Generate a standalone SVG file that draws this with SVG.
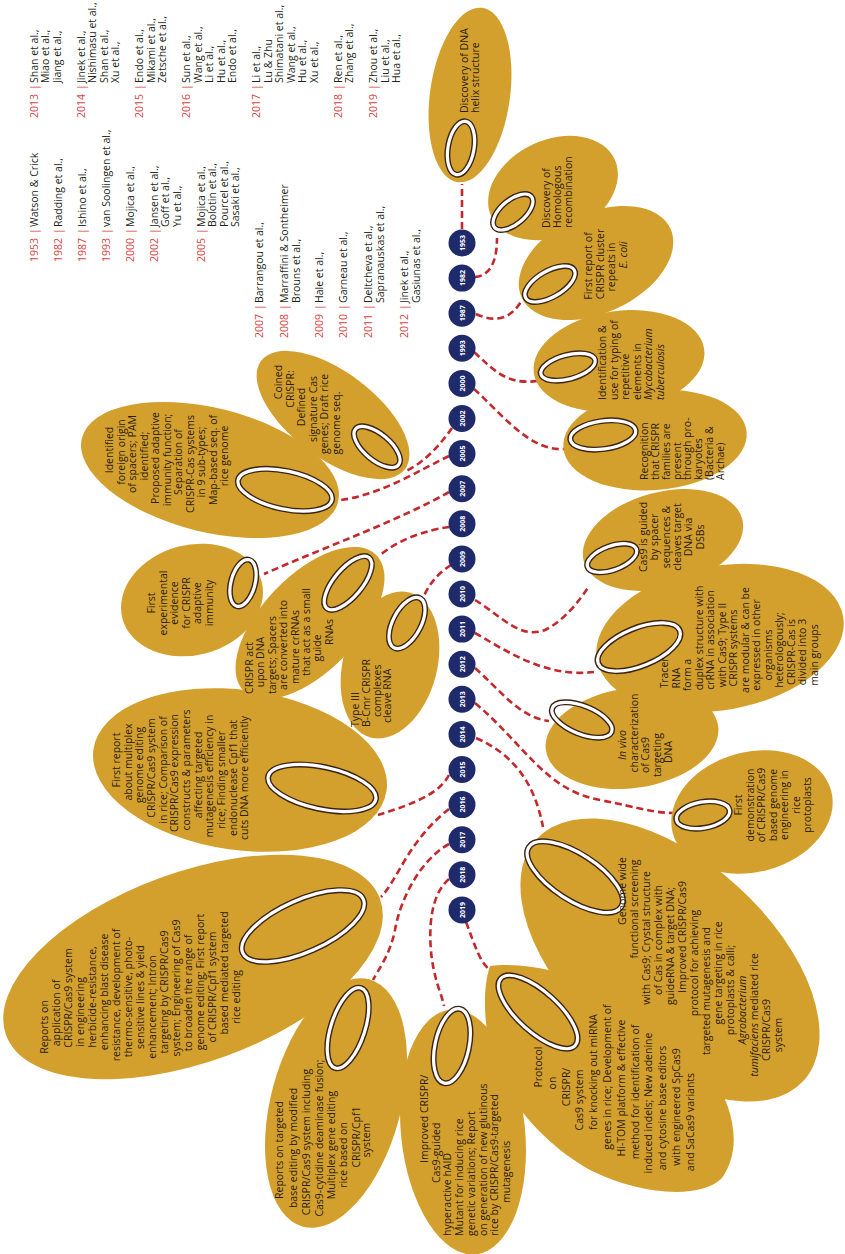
<svg xmlns="http://www.w3.org/2000/svg" width="845" height="1254" viewBox="0 0 845 1254">
<style>
.nd{fill:#D4A02D}
.r1{fill:none;stroke:#3B2416;stroke-width:6}
.r2{fill:none;stroke:#FFFFFF;stroke-width:3.2}
.cn{fill:none;stroke:#C4282C;stroke-width:2.6;stroke-dasharray:7 4}
.yc{fill:#1F2A6B}
.yt{fill:#FFFFFF;font-family:"Open Sans","Noto Sans",sans-serif;font-weight:bold;font-size:7px;text-anchor:middle}
.t{fill:#2A1C10;font-family:"Open Sans","Noto Sans",sans-serif;font-size:10.5px}
.m{text-anchor:middle}
.i{font-style:italic}
.lt{fill:#231F20;font-family:"Open Sans","Noto Sans",sans-serif;font-size:10.5px}
.yr{fill:#D2453F}
</style>
<rect width="845" height="1254" fill="#FFFFFF"/>

<g id="connectors">
<path class="cn" d="M462 229 L462 184"/>
<path class="cn" d="M475 277 C488 276 497 265 497 238"/>
<path class="cn" d="M476 314 Q506 328 522 300"/>
<path class="cn" d="M474 352 C494 370 506 385 537 381"/>
<path class="cn" d="M474 389 C500 412 530 452 564 449"/>
<path class="cn" d="M452 428 C440 445 425 462 406 471"/>
<path class="cn" d="M449 456 C420 470 380 495 341 500"/>
<path class="cn" d="M449 492 C400 520 330 545 264 574"/>
<path class="cn" d="M449 527 C428 530 400 538 379 556"/>
<path class="cn" d="M451 565 C440 572 430 582 424 596"/>
<path class="cn" d="M475 600 C500 615 520 640 545 630 C565 620 580 600 589 586"/>
<path class="cn" d="M475 633 C505 650 545 678 594 672"/>
<path class="cn" d="M475 668 C500 690 520 718 549 721"/>
<path class="cn" d="M475 703 C525 745 545 790 600 800 C640 808 655 813 673 813"/>
<path class="cn" d="M476 738 C515 755 535 785 543 827"/>
<path class="cn" d="M449 775 C440 792 420 802 378 815"/>
<path class="cn" d="M449 809 C435 820 420 835 405 860 C395 877 388 890 381 897"/>
<path class="cn" d="M449 844 C420 860 400 900 395 930 C390 955 378 970 373 980"/>
<path class="cn" d="M449 879 C430 895 428 930 432 960 C436 985 442 995 444 1006"/>
<path class="cn" d="M466 922 C475 945 480 965 493 972"/>
</g>

<g id="timeline">
<circle class="yc" cx="462" cy="243" r="13.5"/><text class="yt" transform="translate(464.5,243) rotate(-90)">1953</text>
<circle class="yc" cx="462" cy="278.1" r="13.5"/><text class="yt" transform="translate(464.5,278.1) rotate(-90)">1982</text>
<circle class="yc" cx="462" cy="313.2" r="13.5"/><text class="yt" transform="translate(464.5,313.2) rotate(-90)">1987</text>
<circle class="yc" cx="462" cy="348.3" r="13.5"/><text class="yt" transform="translate(464.5,348.3) rotate(-90)">1993</text>
<circle class="yc" cx="462" cy="383.4" r="13.5"/><text class="yt" transform="translate(464.5,383.4) rotate(-90)">2000</text>
<circle class="yc" cx="462" cy="418.5" r="13.5"/><text class="yt" transform="translate(464.5,418.5) rotate(-90)">2002</text>
<circle class="yc" cx="462" cy="453.6" r="13.5"/><text class="yt" transform="translate(464.5,453.6) rotate(-90)">2005</text>
<circle class="yc" cx="462" cy="488.7" r="13.5"/><text class="yt" transform="translate(464.5,488.7) rotate(-90)">2007</text>
<circle class="yc" cx="462" cy="523.8" r="13.5"/><text class="yt" transform="translate(464.5,523.8) rotate(-90)">2008</text>
<circle class="yc" cx="462" cy="558.9" r="13.5"/><text class="yt" transform="translate(464.5,558.9) rotate(-90)">2009</text>
<circle class="yc" cx="462" cy="594" r="13.5"/><text class="yt" transform="translate(464.5,594) rotate(-90)">2010</text>
<circle class="yc" cx="462" cy="629.1" r="13.5"/><text class="yt" transform="translate(464.5,629.1) rotate(-90)">2011</text>
<circle class="yc" cx="462" cy="664.2" r="13.5"/><text class="yt" transform="translate(464.5,664.2) rotate(-90)">2012</text>
<circle class="yc" cx="462" cy="699.3" r="13.5"/><text class="yt" transform="translate(464.5,699.3) rotate(-90)">2013</text>
<circle class="yc" cx="462" cy="734.4" r="13.5"/><text class="yt" transform="translate(464.5,734.4) rotate(-90)">2014</text>
<circle class="yc" cx="462" cy="769.5" r="13.5"/><text class="yt" transform="translate(464.5,769.5) rotate(-90)">2015</text>
<circle class="yc" cx="462" cy="804.6" r="13.5"/><text class="yt" transform="translate(464.5,804.6) rotate(-90)">2016</text>
<circle class="yc" cx="462" cy="839.7" r="13.5"/><text class="yt" transform="translate(464.5,839.7) rotate(-90)">2017</text>
<circle class="yc" cx="462" cy="874.8" r="13.5"/><text class="yt" transform="translate(464.5,874.8) rotate(-90)">2018</text>
<circle class="yc" cx="462" cy="909.9" r="13.5"/><text class="yt" transform="translate(464.5,909.9) rotate(-90)">2019</text>
</g>

<g id="n2000">
<ellipse class="nd" transform="translate(655,440) rotate(-5)" rx="92" ry="50"/>
<g transform="translate(603,435) rotate(-8)"><ellipse class="r1" rx="33" ry="14"/><ellipse class="r2" rx="33" ry="14"/></g>
<text class="t" transform="translate(648,480) rotate(-90)"><tspan x="0" y="0">Recognition</tspan><tspan x="0" y="11">that CRISPR</tspan><tspan x="0" y="22">families are</tspan><tspan x="0" y="32.5">present</tspan><tspan x="0" y="43">through pro-</tspan><tspan x="0" y="54">karyotes</tspan><tspan x="0" y="65">(Bacteria &amp;</tspan><tspan x="0" y="76">Archae)</tspan></text>
</g>

<g id="n1993">
<ellipse class="nd" transform="translate(619,361) rotate(-8)" rx="86" ry="50"/>
<g transform="translate(568,367) rotate(-15)"><ellipse class="r1" rx="28" ry="12"/><ellipse class="r2" rx="28" ry="12"/></g>
<text class="t" transform="translate(606,400) rotate(-90)"><tspan x="0" y="0">Identification &amp;</tspan><tspan x="0" y="11.5">use for typing of</tspan><tspan x="0" y="23">repetitive</tspan><tspan x="0" y="34.5">elements in</tspan><tspan class="i" x="0" y="46">Mycobacterium</tspan><tspan class="i" x="0" y="57.5">tuberculosis</tspan></text>
</g>

<g id="n1987">
<ellipse class="nd" transform="translate(596,263) rotate(-25)" rx="82" ry="50"/>
<g transform="translate(550,284) rotate(-30)"><ellipse class="r1" rx="28" ry="13"/><ellipse class="r2" rx="28" ry="13"/></g>
<text class="t m" transform="translate(592,265) rotate(-90)"><tspan x="-1" y="0">First report of</tspan><tspan x="1" y="11.5">CRISPR cluster</tspan><tspan x="-2" y="23">repeats in</tspan><tspan class="i" x="10" y="34.5">E. coli</tspan></text>
</g>

<g id="n1982">
<ellipse class="nd" transform="translate(553,188) rotate(-25)" rx="68" ry="48"/>
<g transform="translate(513,212) rotate(-40)"><ellipse class="r1" rx="24" ry="12"/><ellipse class="r2" rx="24" ry="12"/></g>
<text class="t" transform="translate(550,228) rotate(-90)"><tspan x="0" y="0">Discovery of</tspan><tspan x="0" y="11">Homologous</tspan><tspan x="0" y="22">recombination</tspan></text>
</g>

<g id="n1953">
<ellipse class="nd" transform="translate(470,95) rotate(8)" rx="40" ry="88"/>
<g transform="translate(461,148) rotate(10)"><ellipse class="r1" rx="13" ry="27"/><ellipse class="r2" rx="13" ry="27"/></g>
<text class="t" transform="translate(468,113) rotate(-90)"><tspan x="0" y="0">Discovery of DNA</tspan><tspan x="0" y="11">helix structure</tspan></text>
</g>

<g id="n2010">
<ellipse class="nd" transform="translate(663,540) rotate(-15)" rx="82" ry="48"/>
<g transform="translate(612,558) rotate(-20)"><ellipse class="r1" rx="26" ry="12"/><ellipse class="r2" rx="26" ry="12"/></g>
<text class="t m" transform="translate(647,537) rotate(-90)"><tspan x="0" y="0">Cas9 is guided</tspan><tspan x="0" y="11.3">by spacer</tspan><tspan x="0" y="22.6">sequences &amp;</tspan><tspan x="0" y="34">cleaves target</tspan><tspan x="0" y="45.3">DNA via</tspan><tspan x="0" y="56.6">DSBs</tspan></text>
</g>

<g id="n2011">
<ellipse class="nd" transform="translate(720,638) rotate(-10)" rx="125" ry="72"/>
<g transform="translate(639,647) rotate(-22)"><ellipse class="r1" rx="44" ry="19"/><ellipse class="r2" rx="44" ry="19"/></g>
<text class="t m" transform="translate(668,650) rotate(-90)"><tspan x="-23" y="0">Tracer</tspan><tspan x="-28" y="11.5">RNA</tspan><tspan x="-25" y="23">form a</tspan><tspan x="12" y="34.5">duplex structure with</tspan><tspan x="10" y="46">crRNA in association</tspan><tspan x="5" y="57.5">with Cas9; Type II</tspan><tspan x="2" y="69">CRISPR systems</tspan><tspan x="10" y="80.5">are modular &amp; can be</tspan><tspan x="5" y="92">expressed in other</tspan><tspan x="-5" y="103.5">organisms</tspan><tspan x="0" y="115">heterologously;</tspan><tspan x="-2" y="126.5">CRISPR-Cas is</tspan><tspan x="-2" y="138">divided into 3</tspan><tspan x="-5" y="149.5">main groups</tspan></text>
</g>

<g id="n2013">
<ellipse class="nd" transform="translate(752,812) rotate(-15)" rx="82" ry="60"/>
<g transform="translate(703,815) rotate(-10)"><ellipse class="r1" rx="27" ry="13"/><ellipse class="r2" rx="27" ry="13"/></g>
<text class="t m" transform="translate(742,805) rotate(-90)"><tspan x="0" y="0">First</tspan><tspan x="0" y="11.5">demonstration</tspan><tspan x="0" y="23">of CRISPR/Cas9</tspan><tspan x="0" y="34.5">based genome</tspan><tspan x="0" y="46">engineering in</tspan><tspan x="0" y="57.5">rice</tspan><tspan x="0" y="69">protoplasts</tspan></text>
</g>

<g id="n2012">
<ellipse class="nd" transform="translate(632,738) rotate(-8)" rx="87" ry="50"/>
<g transform="translate(582,720) rotate(22)"><ellipse class="r1" rx="32" ry="14"/><ellipse class="r2" rx="32" ry="14"/></g>
<text class="t m" transform="translate(626,750) rotate(-90)"><tspan class="i" x="5" y="0">In vivo</tspan><tspan x="17" y="11.5">characterization</tspan><tspan x="-5" y="23">of Cas9</tspan><tspan x="-5" y="34.5">targeting</tspan><tspan x="-2" y="46">DNA</tspan></text>
</g>

<g id="n2014">
<ellipse class="nd" transform="translate(670,960) rotate(42)" rx="180" ry="100"/>
<g transform="translate(575,877) rotate(33)"><ellipse class="r1" rx="55" ry="23"/><ellipse class="r2" rx="55" ry="23"/></g>
<text class="t m" transform="translate(626,950) rotate(-90)"><tspan x="59" y="0">Genome wide</tspan><tspan x="41" y="12">functional screening</tspan><tspan x="12" y="24">with Cas9; Crystal  structure</tspan><tspan x="10" y="36">of Cas in complex with</tspan><tspan x="4" y="48">guideRNA &amp; target DNA;</tspan><tspan x="13" y="60">Improved CRISPR/Cas9</tspan><tspan x="-13" y="72">protocol for achieving</tspan><tspan x="-41" y="84">targeted mutagenesis and</tspan><tspan x="-23" y="96">gene targeting in  rice</tspan><tspan x="-40" y="108">protoplasts &amp;  calli;</tspan><tspan class="i" x="-60" y="120">Agrobacterium</tspan><tspan x="-65" y="132"><tspan class="i">tumifaciens</tspan> mediated rice</tspan><tspan x="-80" y="144">CRISPR/Cas9</tspan><tspan x="-85" y="156">system</tspan></text>
</g>

<g id="n2019">
<path class="nd" d="M490 966 C520 962 570 970 615 995 C655 1017 690 1040 712 1075 C735 1110 742 1150 722 1178 C700 1200 640 1195 590 1170 C545 1145 505 1100 492 1055 C484 1025 482 990 490 966 Z"/>
<g transform="translate(538,1012) rotate(42)"><ellipse class="r1" rx="50" ry="20"/><ellipse class="r2" rx="50" ry="20"/></g>
<text class="t m" transform="translate(542,1090) rotate(-90)"><tspan x="23" y="0">Protocol</tspan><tspan x="7" y="13.8">on</tspan><tspan x="3" y="27.6">CRISPR/</tspan><tspan x="-10" y="41.4">Cas9 system</tspan><tspan x="18" y="55.2">for knocking out miRNA</tspan><tspan x="13" y="69">genes in rice; Development of</tspan><tspan x="2" y="82.8">Hi-TOM platform &amp; effective</tspan><tspan x="-2" y="96.6">method for identification of</tspan><tspan x="-13" y="110.4">induced indels; New adenine</tspan><tspan x="-18" y="124.2">and cytosine base editors</tspan><tspan x="-17" y="138">with engineered SpCas9</tspan><tspan x="-32" y="151.8">and SaCas9 variants</tspan></text>
</g>

<g id="n2016">
<ellipse class="nd" transform="translate(193,967) rotate(-20)" rx="199" ry="95"/>
<g transform="translate(303,926) rotate(-24)"><ellipse class="r1" rx="66" ry="26"/><ellipse class="r2" rx="66" ry="26"/></g>
<text class="t m" transform="translate(48,1000) rotate(-90)"><tspan x="-27" y="0">Reports on</tspan><tspan x="-13" y="12">application of</tspan><tspan x="2" y="24">CRISPR/Cas9 system</tspan><tspan x="-12" y="36">in engineering</tspan><tspan x="3" y="48">herbicide-resistance,</tspan><tspan x="8" y="60">enhancing blast disease</tspan><tspan x="5" y="72">resistance, development of</tspan><tspan x="3" y="84">thermo-sensitive, photo-</tspan><tspan x="3" y="96">sensitive lines &amp; yield</tspan><tspan x="-7" y="108">enhancement; Intron</tspan><tspan x="8" y="120">targeting by CRISPR/Cas9</tspan><tspan x="12" y="132">system; Engineering of Cas9</tspan><tspan x="7" y="144">to broaden the range of</tspan><tspan x="18" y="156">genome editing; First report</tspan><tspan x="13" y="168">of CRISPR/Cpf1 system</tspan><tspan x="27" y="180">based mediated targeted</tspan><tspan x="3" y="192">rice editing</tspan></text>
</g>

<g id="n2015">
<ellipse class="nd" transform="translate(240,770) rotate(8)" rx="148" ry="80"/>
<g transform="translate(322,788) rotate(12)"><ellipse class="r1" rx="55" ry="21"/><ellipse class="r2" rx="55" ry="21"/></g>
<text class="t m" transform="translate(120,780) rotate(-90)"><tspan x="20" y="0">First report</tspan><tspan x="18" y="11.65">about multiplex</tspan><tspan x="15" y="23.3">genome editing</tspan><tspan x="12" y="35">CRISPR/Cas9 system</tspan><tspan x="10" y="46.6">in rice; Comparison of</tspan><tspan x="7" y="58.3">CRISPR/Cas9 expression</tspan><tspan x="10" y="70">constructs &amp; parameters</tspan><tspan x="5" y="81.6">affecting targeted</tspan><tspan x="4" y="93.3">mutagenesis efficiency in</tspan><tspan x="0" y="105">rice; Finding smaller</tspan><tspan x="2" y="116.6">endonuclease Cpf1 that</tspan><tspan x="2" y="128.3">cuts DNA more efficiently</tspan></text>
</g>

<g id="n2007">
<ellipse class="nd" transform="translate(192,600) rotate(-15)" rx="72" ry="55"/>
<g transform="translate(243,583) rotate(15)"><ellipse class="r1" rx="12" ry="24"/><ellipse class="r2" rx="12" ry="24"/></g>
<text class="t m" transform="translate(155,603) rotate(-90)"><tspan x="0" y="0">First</tspan><tspan x="0" y="11.5">experimental</tspan><tspan x="0" y="23">evidence</tspan><tspan x="0" y="34.5">for CRISPR</tspan><tspan x="0" y="46">adaptive</tspan><tspan x="0" y="57.5">immunity</tspan></text>
</g>

<g id="n2008">
<ellipse class="nd" transform="translate(310,623) rotate(-46)" rx="95" ry="48"/>
<g transform="translate(348,583) rotate(-50)"><ellipse class="r1" rx="33" ry="14"/><ellipse class="r2" rx="33" ry="14"/></g>
<text class="t m" transform="translate(253,650) rotate(-90)"><tspan x="-18" y="0">CRISPR act</tspan><tspan x="-12" y="11.4">upon DNA</tspan><tspan x="-5" y="22.8">targets; Spacers</tspan><tspan x="5" y="34.2">are converted into</tspan><tspan x="3" y="45.6">mature crRNAs</tspan><tspan x="18" y="57">that act as a small</tspan><tspan x="2" y="68.4">guide</tspan><tspan x="18" y="79.8">RNAs</tspan></text>
</g>

<g id="n2009">
<ellipse class="nd" transform="translate(390,665) rotate(15)" rx="47" ry="75"/>
<g transform="translate(407,623) rotate(28)"><ellipse class="r1" rx="14" ry="28"/><ellipse class="r2" rx="14" ry="28"/></g>
<text class="t" transform="translate(359,727) rotate(-90)"><tspan x="0" y="0">Type III</tspan><tspan x="0" y="11">B-Cmr CRISPR</tspan><tspan x="10" y="22">complexes</tspan><tspan x="4" y="32">cleave RNA</tspan></text>
</g>

<g id="n2005">
<ellipse class="nd" transform="translate(210,470) rotate(14)" rx="132" ry="62"/>
<g transform="translate(285,490) rotate(12)"><ellipse class="r1" rx="48" ry="19"/><ellipse class="r2" rx="48" ry="19"/></g>
<text class="t m" transform="translate(113,462) rotate(-90)"><tspan x="12" y="0">Identified</tspan><tspan x="10" y="11.5">foreign origin</tspan><tspan x="8" y="23">of spacers; PAM</tspan><tspan x="6" y="34.5">identified;</tspan><tspan x="4" y="46">Proposed adaptive</tspan><tspan x="2" y="57.5">immunity function;</tspan><tspan x="0" y="69">Separation of</tspan><tspan x="-2" y="80.5">CRISPR-Cas systems</tspan><tspan x="0" y="92">in 9 sub-types;</tspan><tspan x="2" y="103.5">Map-based seq. of</tspan><tspan x="6" y="115">rice genome</tspan></text>
</g>

<g id="n2002">
<ellipse class="nd" transform="translate(333,415) rotate(37)" rx="90" ry="43"/>
<g transform="translate(377,447) rotate(40)"><ellipse class="r1" rx="28" ry="13"/><ellipse class="r2" rx="28" ry="13"/></g>
<text class="t m" transform="translate(282,400) rotate(-90)"><tspan x="18" y="0">Coined</tspan><tspan x="11" y="11.6">CRISPR:</tspan><tspan x="-7" y="23.2">Defined</tspan><tspan x="-9" y="34.8">signature  Cas</tspan><tspan x="-14" y="46.4">genes; Draft rice</tspan><tspan x="-23" y="58">genome seq.</tspan></text>
</g>

<g id="n2017">
<ellipse class="nd" transform="translate(336,1103) rotate(15)" rx="65" ry="128"/>
<g transform="translate(348,1028) rotate(18)"><ellipse class="r1" rx="17" ry="42"/><ellipse class="r2" rx="17" ry="42"/></g>
<text class="t m" transform="translate(283,1145) rotate(-90)"><tspan x="-5" y="0">Reports on targeted</tspan><tspan x="-3" y="14">base editing by modified</tspan><tspan x="3" y="27">CRISPR/Cas9 system including</tspan><tspan x="7" y="40">Cas9-cytidine deaminase fusion;</tspan><tspan x="0" y="52">Multiplex gene editing</tspan><tspan x="-10" y="64">rice based on</tspan><tspan x="8" y="77">CRISPR/Cpf1</tspan><tspan x="5" y="87">system</tspan></text>
</g>

<g id="n2018">
<ellipse class="nd" transform="translate(463,1132) rotate(-6)" rx="62" ry="123"/>
<g transform="translate(452,1046) rotate(12)"><ellipse class="r1" rx="17" ry="38"/><ellipse class="r2" rx="17" ry="38"/></g>
<text class="t" transform="translate(428,1236) rotate(-90)"><tspan x="73" y="0">Improved CRISPR/</tspan><tspan x="53" y="11.7">Cas9-guided</tspan><tspan x="0" y="23.4">hyperactive  hAID</tspan><tspan x="0" y="35">Mutant for inducing rice</tspan><tspan x="0" y="47">genetic  variations; Report</tspan><tspan x="0" y="58.6">on  generation of new glutinous</tspan><tspan x="0" y="70.3">rice by CRISPR/Cas9-targeted</tspan><tspan x="33" y="82">mutagenesis</tspan></text>
</g>

<g id="references">
<text class="lt" transform="translate(37.5,262) rotate(-90)"><tspan class="yr">1953</tspan><tspan class="yr" x="28">|</tspan><tspan x="35">Watson &amp; Crick</tspan></text>
<text class="lt" transform="translate(61.5,262) rotate(-90)"><tspan class="yr">1982</tspan><tspan class="yr" x="28">|</tspan><tspan x="35">Radding et al.,</tspan></text>
<text class="lt" transform="translate(85.5,262) rotate(-90)"><tspan class="yr">1987</tspan><tspan class="yr" x="28">|</tspan><tspan x="35">Ishino et al.,</tspan></text>
<text class="lt" transform="translate(109.5,262) rotate(-90)"><tspan class="yr">1993</tspan><tspan class="yr" x="28">|</tspan><tspan x="35">van Soolingen et al.,</tspan></text>
<text class="lt" transform="translate(133.5,262) rotate(-90)"><tspan class="yr">2000</tspan><tspan class="yr" x="28">|</tspan><tspan x="35">Mojica et al.,</tspan></text>
<text class="lt" transform="translate(157.5,262) rotate(-90)"><tspan class="yr">2002</tspan><tspan class="yr" x="28">|</tspan><tspan x="35">Jansen et al.,</tspan><tspan x="35" y="11.5">Goff et al.,</tspan><tspan x="35" y="23">Yu et al.,</tspan></text>
<text class="lt" transform="translate(204.5,262) rotate(-90)"><tspan class="yr">2005</tspan><tspan class="yr" x="28">|</tspan><tspan x="35">Mojica et al.,</tspan><tspan x="35" y="11.5">Bolotin et al.,</tspan><tspan x="35" y="23">Pourcel et al.,</tspan><tspan x="35" y="34.5">Sasaki et al.,</tspan></text>
<text class="lt" transform="translate(263,338) rotate(-90)"><tspan class="yr">2007</tspan><tspan class="yr" x="28">|</tspan><tspan x="35">Barrangou et al.,</tspan></text>
<text class="lt" transform="translate(288,338) rotate(-90)"><tspan class="yr">2008</tspan><tspan class="yr" x="28">|</tspan><tspan x="35">Marraffini &amp; Sontheimer</tspan><tspan x="35" y="11.5">Brouns et al.,</tspan></text>
<text class="lt" transform="translate(323,338) rotate(-90)"><tspan class="yr">2009</tspan><tspan class="yr" x="28">|</tspan><tspan x="35">Hale et al.,</tspan></text>
<text class="lt" transform="translate(347,338) rotate(-90)"><tspan class="yr">2010</tspan><tspan class="yr" x="28">|</tspan><tspan x="35">Garneau et al.,</tspan></text>
<text class="lt" transform="translate(372,338) rotate(-90)"><tspan class="yr">2011</tspan><tspan class="yr" x="28">|</tspan><tspan x="35">Deltcheva et al.,</tspan><tspan x="35" y="11.5">Sapranauskas et al.,</tspan></text>
<text class="lt" transform="translate(408,338) rotate(-90)"><tspan class="yr">2012</tspan><tspan class="yr" x="28">|</tspan><tspan x="35">Jinek et al.,</tspan><tspan x="35" y="11.5">Gasiunas et al.,</tspan></text>
<text class="lt" transform="translate(37.5,118) rotate(-90)"><tspan class="yr">2013</tspan><tspan class="yr" x="28">|</tspan><tspan x="35">Shan et al.,</tspan><tspan x="35" y="11.5">Miao et al.,</tspan><tspan x="35" y="23">Jiang et al.,</tspan></text>
<text class="lt" transform="translate(84.5,118) rotate(-90)"><tspan class="yr">2014</tspan><tspan class="yr" x="28">|</tspan><tspan x="35">Jinek et al.,</tspan><tspan x="35" y="11.5">Nishimasu et al.,</tspan><tspan x="35" y="23">Shan et al.,</tspan><tspan x="35" y="34.5">Xu  et al.,</tspan></text>
<text class="lt" transform="translate(143,118) rotate(-90)"><tspan class="yr">2015</tspan><tspan class="yr" x="28">|</tspan><tspan x="35">Endo et al.,</tspan><tspan x="35" y="11.5">Mikami et al.,</tspan><tspan x="35" y="23">Zetsche et al.,</tspan></text>
<text class="lt" transform="translate(190,118) rotate(-90)"><tspan class="yr">2016</tspan><tspan class="yr" x="28">|</tspan><tspan x="35">Sun et al.,</tspan><tspan x="35" y="11.5">Wang et al.,</tspan><tspan x="35" y="23">Li et al.,</tspan><tspan x="35" y="34.5">Hu et al.,</tspan><tspan x="35" y="46">Endo et al.,</tspan></text>
<text class="lt" transform="translate(260,118) rotate(-90)"><tspan class="yr">2017</tspan><tspan class="yr" x="28">|</tspan><tspan x="35">Li et al.,</tspan><tspan x="35" y="11.5">Lu &amp; Zhu</tspan><tspan x="35" y="23">Shimatani et al.,</tspan><tspan x="35" y="34.5">Wang et al.,</tspan><tspan x="35" y="46">Hu et al.,</tspan><tspan x="35" y="57.5">Xu et al.,</tspan></text>
<text class="lt" transform="translate(341.5,118) rotate(-90)"><tspan class="yr">2018</tspan><tspan class="yr" x="28">|</tspan><tspan x="35">Ren et al.,</tspan><tspan x="35" y="11.5">Zhang et al.,</tspan></text>
<text class="lt" transform="translate(377,118) rotate(-90)"><tspan class="yr">2019</tspan><tspan class="yr" x="28">|</tspan><tspan x="35">Zhou et al.,</tspan><tspan x="35" y="11.5">Liu et al.,</tspan><tspan x="35" y="23">Hua et al.,</tspan></text>
</g>
</svg>
